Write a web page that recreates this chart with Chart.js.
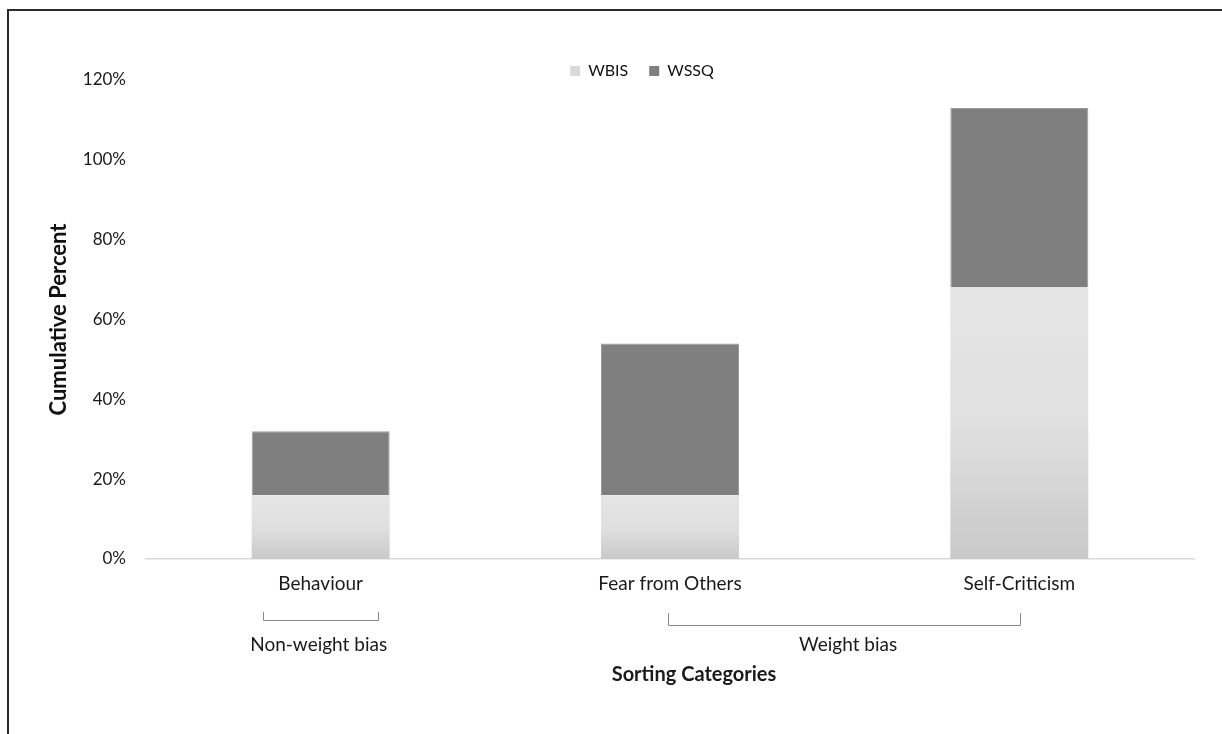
<!DOCTYPE html>
<html>
<head>
<meta charset="utf-8">
<script src="https://cdn.jsdelivr.net/npm/chart.js@4.4.1/dist/chart.umd.min.js"></script>
<style>
  html, body { margin: 0; padding: 0; background: #fff; }
  #wrap { position: relative; width: 1222px; height: 734px; }
  #frame { position: absolute; left: 7px; top: 9px; right: -4px; bottom: -4px;
           border-left: 2px solid #2b2b2b; border-top: 2px solid #2b2b2b; pointer-events: none; }
  canvas { display: block; }
</style>
</head>
<body>
<div id="wrap">
  <canvas id="chart" width="1222" height="734"></canvas>
  <div id="frame"></div>
</div>
<script>
// Sorting categories and cumulative percentages per measure
const categories = ['Behaviour', 'Fear from Others', 'Self-Criticism'];
const wbisValues = [16, 16, 68];
const wssqValues = [16, 38, 45];
const yTicks = { min: 0, max: 120, step: 20 };

// Group brackets under the category axis
const groups = [
  { label: 'Non-weight bias', from: 0, to: 0 },
  { label: 'Weight bias', from: 1, to: 2 }
];
const xAxisTitle = 'Sorting Categories';
const yAxisTitle = 'Cumulative Percent';

const FONT = 'Lato, "Open Sans", sans-serif';
const AXIS_LEFT = 146;     // where the plot area starts
const LEGEND_SHIFT = -28;  // legend sits slightly left of the plot centre

// Light fill for WBIS: each bar fades from light at the top to a darker grey at the base
function wbisFill(ctx) {
  const chart = ctx.chart;
  const area = chart.chartArea;
  if (!area || ctx.type !== 'data') return '#dcdcdc';
  const y = chart.scales.y;
  const yStart = y.getPixelForValue(0);
  const yEnd = y.getPixelForValue(ctx.raw);
  if (!isFinite(yStart) || !isFinite(yEnd) || yStart === yEnd) return '#dcdcdc';
  const g = chart.ctx.createLinearGradient(0, yEnd, 0, yStart);
  g.addColorStop(0, '#e5e5e5');
  g.addColorStop(0.5, '#e0e0e0');
  g.addColorStop(1, '#c9c9c9');
  return g;
}

// Nudge the legend box horizontally once the layout is known
const legendShift = {
  id: 'legendShift',
  afterLayout(chart) {
    const lg = chart.legend;
    if (!lg) return;
    lg.left += LEGEND_SHIFT;
    lg.right += LEGEND_SHIFT;
  }
};

// Brackets, group labels and the axis caption below the category labels
const groupPlugin = {
  id: 'groupBrackets',
  afterDraw(chart) {
    const { ctx } = chart;
    const x = chart.scales.x;
    const band = x.getPixelForValue(1) - x.getPixelForValue(0);
    ctx.save();
    ctx.strokeStyle = '#8a8a8a';
    ctx.lineWidth = 1;
    ctx.fillStyle = '#1a1a1a';
    ctx.textAlign = 'center';
    ctx.textBaseline = 'middle';
    ctx.font = '19px ' + FONT;
    groups.forEach(grp => {
      let x0, x1, yTop, yBot, labelX;
      if (grp.from === grp.to) {
        const c = x.getPixelForValue(grp.from);
        x0 = c - band * 0.165;
        x1 = c + band * 0.165;
        yTop = 612; yBot = 620;
        labelX = c - 2;
      } else {
        x0 = x.getPixelForValue(grp.from) - 2;
        x1 = x.getPixelForValue(grp.to) + 1;
        yTop = 613; yBot = 625;
        labelX = (x0 + x1) / 2 + 4;
      }
      ctx.beginPath();
      ctx.moveTo(Math.round(x0) + 0.5, yTop);
      ctx.lineTo(Math.round(x0) + 0.5, yBot + 0.5);
      ctx.lineTo(Math.round(x1) + 0.5, yBot + 0.5);
      ctx.lineTo(Math.round(x1) + 0.5, yTop);
      ctx.stroke();
      ctx.fillText(grp.label, labelX, 645);
    });
    ctx.font = 'bold 20px ' + FONT;
    const mid = (chart.chartArea.left + chart.chartArea.right) / 2;
    ctx.fillText(xAxisTitle, mid + 24, 675);
    ctx.restore();
  }
};

new Chart(document.getElementById('chart'), {
  type: 'bar',
  data: {
    labels: categories,
    datasets: [
      {
        label: 'WBIS',
        data: wbisValues,
        backgroundColor: wbisFill,
        borderWidth: 0
      },
      {
        label: 'WSSQ',
        data: wssqValues,
        backgroundColor: '#7f7f7f',
        borderColor: '#9a9a9a',
        borderWidth: 1
      }
    ]
  },
  options: {
    responsive: false,
    animation: false,
    devicePixelRatio: 1,
    layout: { padding: { top: 42, right: 28, bottom: 0, left: 0 } },
    datasets: {
      bar: { categoryPercentage: 1, barPercentage: 0.395 }
    },
    plugins: {
      legend: {
        position: 'top',
        align: 'center',
        fullSize: false,
        maxHeight: 38,
        labels: {
          font: { family: FONT, size: 16 },
          color: '#111',
          boxWidth: 10,
          boxHeight: 10,
          padding: 21,
          generateLabels(chart) {
            const items = Chart.defaults.plugins.legend.labels.generateLabels(chart);
            items.forEach(it => {
              it.fillStyle = it.datasetIndex === 0 ? '#d9d9d9' : '#7f7f7f';
              it.strokeStyle = it.fillStyle;
              it.lineWidth = 0;
            });
            return items;
          }
        }
      },
      tooltip: { enabled: false }
    },
    scales: {
      x: {
        stacked: true,
        grid: { display: false, drawTicks: false },
        border: { display: true, color: '#d9d9d9', width: 1.5 },
        ticks: {
          font: { family: FONT, size: 19 },
          color: '#1a1a1a',
          padding: 13,
          maxRotation: 0
        },
        afterFit(scale) { scale.height = 175; }
      },
      y: {
        stacked: true,
        min: yTicks.min,
        max: yTicks.max,
        grid: { display: false, drawTicks: false },
        border: { display: false },
        ticks: {
          stepSize: yTicks.step,
          font: { family: FONT, size: 17 },
          color: '#1a1a1a',
          padding: 20,
          callback: v => v + '%'
        },
        title: {
          display: true,
          text: yAxisTitle,
          font: { family: FONT, size: 22, weight: 'bold' },
          color: '#111',
          padding: { top: 46, bottom: 0 }
        },
        afterFit(scale) { scale.width = AXIS_LEFT; }
      }
    }
  },
  plugins: [legendShift, groupPlugin]
});
</script>
</body>
</html>
